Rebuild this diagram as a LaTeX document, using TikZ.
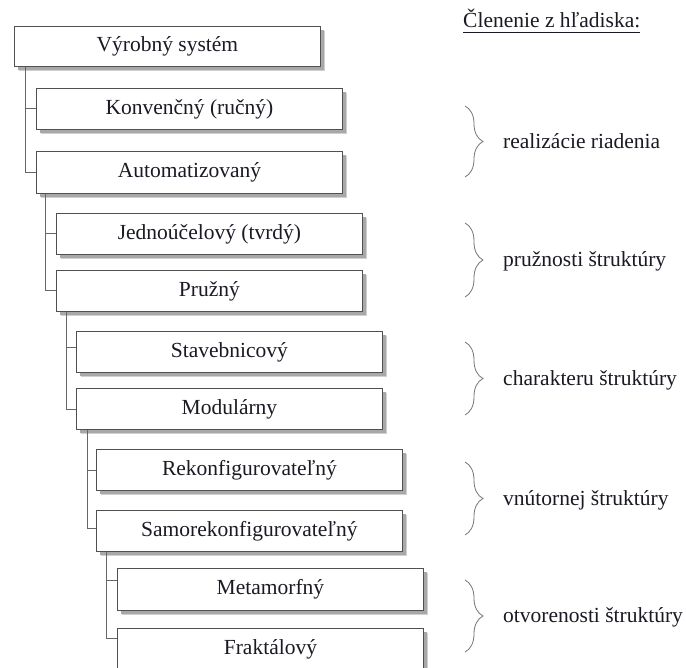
\documentclass[tikz,border=0pt]{standalone}
\usepackage{fontspec}
\setmainfont{Liberation Serif}
\usetikzlibrary{shadows,decorations.pathreplacing}
\definecolor{txt}{HTML}{1A1A24}
\definecolor{edgec}{HTML}{505050}
\definecolor{connc}{HTML}{666666}
\definecolor{shd}{HTML}{A8A8A8}
\definecolor{shdl}{HTML}{D0D0D0}
\definecolor{brcc}{HTML}{767676}
\begin{document}
\begin{tikzpicture}[x=1pt,y=-1pt,
  font=\fontsize{21.5}{25}\selectfont, text=txt,
  sbox/.style={draw=edgec, line width=0.9pt, fill=white, minimum width=306pt,
    minimum height=41pt, anchor=north west, inner sep=0pt,
    general shadow={shadow xshift=5pt,shadow yshift=-5pt,fill=shdl,opacity=1},
    drop shadow={shadow xshift=3.5pt,shadow yshift=-3.5pt,fill=shd,opacity=1}},
  connl/.style={draw=connc, line width=0.9pt},
  brc/.style={draw=brcc, line width=0.8pt, decorate, decoration={brace, amplitude=18pt}},
  lbl/.style={anchor=west, inner sep=0pt}]
\clip (0,0) rectangle (686,668);
\fill[white] (0,0) rectangle (686,668);

% boxes
\node[sbox, minimum height=40pt] (b1) at (14,26) {Výrobný systém};
\node[sbox] (b2) at (36,88) {Konvenčný (ručný)};
\node[sbox, minimum height=42pt] (b3) at (36,151) {Automatizovaný};
\node[sbox] (b4) at (56,213) {Jednoúčelový (tvrdý)};
\node[sbox] (b5) at (56,270) {Pružný};
\node[sbox] (b6) at (76,331) {Stavebnicový};
\node[sbox] (b7) at (76,388) {Modulárny};
\node[sbox] (b8) at (96,449) {Rekonfigurovateľný};
\node[sbox] (b9) at (96,510) {Samorekonfigurovateľný};
\node[sbox, minimum height=42pt] (b10) at (117,568) {Metamorfný};
\node[sbox, minimum height=42pt] (b11) at (117,628) {Fraktálový};

% connectors
\draw[connl] ([xshift=11pt]b1.south west) |- (b2.west);
\draw[connl] ([xshift=11pt]b1.south west) |- (b3.west);
\draw[connl] ([xshift=9.5pt]b3.south west) |- (b4.west);
\draw[connl] ([xshift=9.5pt]b3.south west) |- (b5.west);
\draw[connl] ([xshift=10pt]b5.south west) |- ([yshift=4pt]b6.west);
\draw[connl] ([xshift=10pt]b5.south west) |- ([yshift=-1pt]b7.west);
\draw[connl] ([xshift=11pt]b7.south west) |- (b8.west);
\draw[connl] ([xshift=11pt]b7.south west) |- ([yshift=2.5pt]b9.west);
\draw[connl] ([xshift=10.5pt]b9.south west) |- ([yshift=9.5pt]b10.west);
\draw[connl] ([xshift=10.5pt]b9.south west) |- ([yshift=11pt]b11.west);

% heading
\node[inner sep=0pt, anchor=base west] (head) at (463,28) {Členenie z hľadiska:};
\draw[txt, line width=0.8pt] ([yshift=-4pt]head.base west) -- ([yshift=-4pt]head.base east);

% braces
\coordinate (r1t) at (465,106); \coordinate (r1b) at (465,177);
\coordinate (r2t) at (465,223); \coordinate (r2b) at (465,297);
\coordinate (r3t) at (465,342); \coordinate (r3b) at (465,415);
\coordinate (r4t) at (465,462); \coordinate (r4b) at (465,535);
\coordinate (r5t) at (465,580); \coordinate (r5b) at (465,652);
\draw[brc] (r1t) -- (r1b);
\draw[brc] (r2t) -- (r2b);
\draw[brc] (r3t) -- (r3b);
\draw[brc] (r4t) -- (r4b);
\draw[brc] (r5t) -- (r5b);

\node[lbl] (l1) at (503,141) {realizácie riadenia};
\node[lbl] (l2) at (503,261) {pružnosti štruktúry};
\node[lbl] (l3) at (503,380) {charakteru štruktúry};
\node[lbl] (l4) at (503,500) {vnútornej štruktúry};
\node[lbl] (l5) at (503,617) {otvorenosti štruktúry};
\end{tikzpicture}
\end{document}
